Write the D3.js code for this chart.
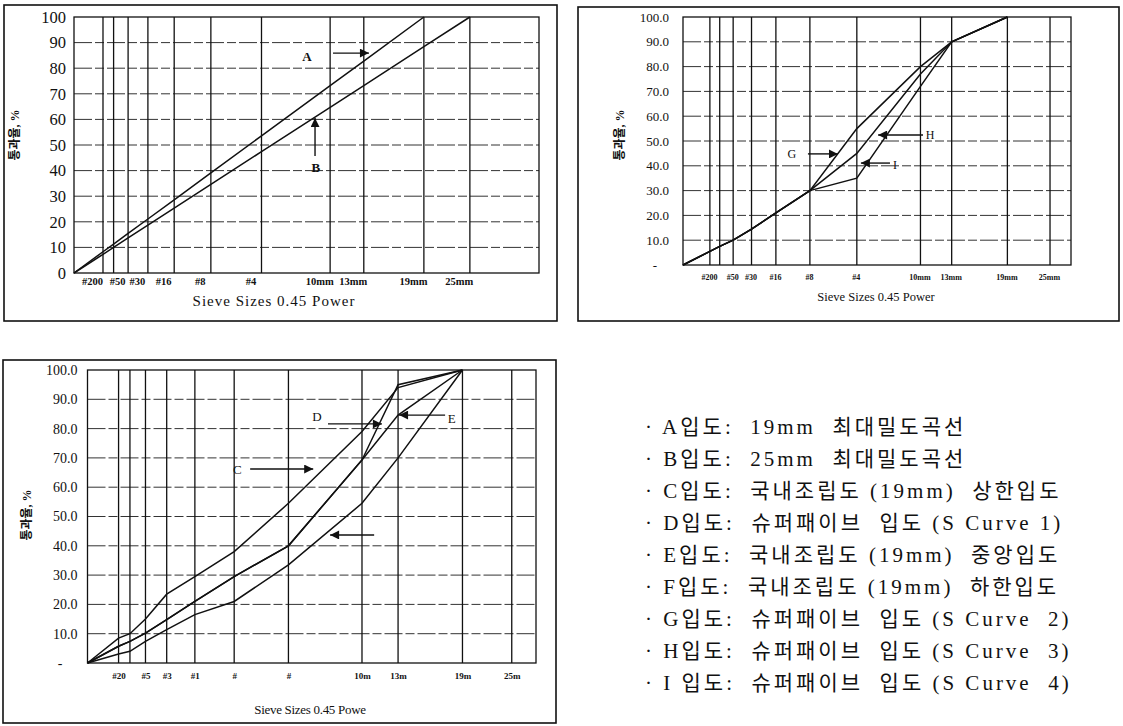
<!DOCTYPE html>
<html>
<head>
<meta charset="utf-8">
<script src="https://cdn.jsdelivr.net/npm/d3@7"></script>
<style>
body { margin: 0; background: #fff; }
svg text { font-family: "Liberation Serif", "Noto Sans CJK KR", serif; fill: #111; }
</style>
</head>
<body>
<svg id="chart" width="1123" height="726"></svg>
<script>
// sieve sizes in mm (0.45 power chart), x labels per panel
var sieveSizes = [0.075, 0.15, 0.3, 0.6, 1.18, 2.36, 4.75, 9.5, 12.5, 19, 25];
var curveSizes = [0].concat(sieveSizes);
var sieveLabels = ["#200", "", "#50", "#30", "#16", "#8", "#4", "10mm", "13mm", "19mm", "25mm"];
var sieveLabelsCut = ["#20", "", "#5", "#3", "#1", "#", "#", "10m", "13m", "19m", "25m"];
var pctTicks = [0, 10, 20, 30, 40, 50, 60, 70, 80, 90, 100];

// passing %, one value per curveSizes entry (null = not plotted)
var gradeA = [0, 8.3, 11.3, 15.5, 21.1, 28.6, 39.1, 53.6, 73.2, 82.8, 100, null];
var gradeB = [0, 7.3, 10.0, 13.7, 18.7, 25.3, 34.6, 47.4, 64.7, 73.2, 88.4, 100];

var gradeG = [0, 5.5, 7.5, 10, 14.5, 21, 30, 55, 80, 90, 100, null];
var gradeH = [0, 5.5, 7.5, 10, 14.5, 21, 30, 45, 77, 90, 100, null];
var gradeI = [0, 5.5, 7.5, 10, 14.5, 21, 30, 35, 72, 90, 100, null];

var gradeC = [0, 8.5, 10, 15, 23.5, 29.5, 38, 54.5, 79, 94, 100, null];
var gradeD = [0, 5.7, 7.4, 10.2, 14.8, 21, 29.5, 40, 69.3, 95, 100, null];
var gradeE = [0, 5.7, 7.4, 10.2, 14.8, 21, 29.5, 40, 69.3, 84.6, 100, null];
var gradeF = [0, 3.1, 4.0, 7.4, 11.4, 16.5, 21, 33.5, 54.5, 70, 100, null];

var legendItems = [
    "· A입도:  19mm  최대밀도곡선",
    "· B입도:  25mm  최대밀도곡선",
    "· C입도:  국내조립도 (19mm)  상한입도",
    "· D입도:  슈퍼패이브  입도 (S Curve 1)",
    "· E입도:  국내조립도 (19mm)  중앙입도",
    "· F입도:  국내조립도 (19mm)  하한입도",
    "· G입도:  슈퍼패이브  입도 (S Curve  2)",
    "· H입도:  슈퍼패이브  입도 (S Curve  3)",
    "· I 입도:  슈퍼패이브  입도 (S Curve  4)"
];

var P = 0.45;
var svg = d3.select("#chart");

svg.append("defs").append("marker")
    .attr("id", "head")
    .attr("markerUnits", "userSpaceOnUse")
    .attr("viewBox", "0 0 10 10")
    .attr("refX", 10).attr("refY", 5)
    .attr("markerWidth", 10).attr("markerHeight", 9)
    .attr("orient", "auto")
    .append("path").attr("d", "M0,0L10,5L0,10Z").attr("fill", "#111");

function drawPanel(c) {
    var g = svg.append("g");

    // 바깥 테두리
    g.append("rect")
        .attr("x", c.box[0]).attr("y", c.box[1])
        .attr("width", c.box[2] - c.box[0]).attr("height", c.box[3] - c.box[1])
        .attr("fill", "none").attr("stroke", "#111").attr("stroke-width", 1.6);

    var x = d3.scalePow().exponent(P)
        .domain([0, Math.pow(c.xMaxU, 1 / P)])
        .range([c.plot.left, c.plot.right]);
    var y = d3.scaleLinear().domain([0, 100]).range([c.plot.bottom, c.plot.top]);

    // 가로 점선
    g.selectAll(".hgrid")
        .data(pctTicks.filter(function (d) { return d > 0 && d < 100; }))
        .enter().append("line")
        .attr("x1", c.plot.left).attr("x2", c.plot.right)
        .attr("y1", function (d) { return y(d); })
        .attr("y2", function (d) { return y(d); })
        .attr("stroke", "#333").attr("stroke-width", 1)
        .attr("stroke-dasharray", "18,3,9,3");

    // 체 크기 세로선
    g.selectAll(".vgrid")
        .data(sieveSizes)
        .enter().append("line")
        .attr("x1", function (d) { return x(d); })
        .attr("x2", function (d) { return x(d); })
        .attr("y1", c.plot.top).attr("y2", c.plot.bottom)
        .attr("stroke", "#111").attr("stroke-width", 1.3);

    g.append("rect")
        .attr("x", c.plot.left).attr("y", c.plot.top)
        .attr("width", c.plot.right - c.plot.left)
        .attr("height", c.plot.bottom - c.plot.top)
        .attr("fill", "none").attr("stroke", "#111").attr("stroke-width", 1.3);

    // y axis labels
    var ya = g.append("g")
        .attr("transform", "translate(" + c.plot.left + ",0)")
        .call(d3.axisLeft(y).tickValues(pctTicks).tickFormat(c.yFormat)
            .tickSize(0).tickPadding(c.yPad));
    ya.select(".domain").remove();
    ya.selectAll("text")
        .attr("font-family", "Liberation Serif").attr("font-size", c.yFont)
        .attr("fill", "#111")
        .attr("dx", function (d) { return d === 0 ? c.zeroDx : 0; });

    // x axis labels
    var xa = g.append("g")
        .attr("transform", "translate(0," + c.plot.bottom + ")")
        .call(d3.axisBottom(x).tickValues(sieveSizes)
            .tickFormat(function (d, i) { return c.xLabels[i]; })
            .tickSize(0));
    xa.select(".domain").remove();
    xa.selectAll("text")
        .attr("y", c.xLabelOffset).attr("dy", "0.35em").attr("dx", c.xLabelDx)
        .attr("font-family", "'Liberation Sans Narrow', 'DejaVu Sans Condensed', sans-serif")
        .attr("font-weight", "bold").attr("font-size", c.xLabelFont)
        .attr("fill", "#111");

    g.append("text")
        .attr("x", c.titleX).attr("y", c.titleY).attr("dy", "0.35em")
        .attr("text-anchor", "middle")
        .attr("font-size", c.titleFont)
        .attr("letter-spacing", c.titleSpacing)
        .text(c.title);

    g.append("text")
        .attr("transform", "translate(" + c.yTitleX + "," + c.yTitleY + ")rotate(-90)")
        .attr("text-anchor", "middle").attr("dy", "0.35em")
        .attr("font-family", "Noto Sans CJK KR").attr("font-weight", "bold")
        .attr("font-size", 12)
        .text("통과율, %");

    var line = d3.line()
        .defined(function (d) { return d != null; })
        .x(function (d, i) { return x(curveSizes[i]); })
        .y(function (d) { return y(d); });

    g.selectAll(".curve")
        .data(c.series)
        .enter().append("path")
        .attr("d", line)
        .attr("fill", "none").attr("stroke", "#111").attr("stroke-width", 1.5);

    // 화살표 + 글자
    c.notes.forEach(function (n) {
        if (n.arrow) {
            g.append("line")
                .attr("x1", x(n.arrow[0])).attr("y1", y(n.arrow[1]))
                .attr("x2", x(n.arrow[2])).attr("y2", y(n.arrow[3]))
                .attr("stroke", "#111").attr("stroke-width", 1.4)
                .attr("marker-end", "url(#head)");
        }
        if (n.text) {
            g.append("text")
                .attr("x", x(n.at[0])).attr("y", y(n.at[1]))
                .attr("dy", "0.35em").attr("text-anchor", "middle")
                .attr("font-family", c.noteFamily)
                .attr("font-weight", c.noteWeight)
                .attr("font-size", c.noteFont)
                .text(n.text);
        }
    });
}

var oneDec = function (d) { return d === 0 ? "-" : d3.format(".1f")(d); };

drawPanel({
    box: [4, 5, 557, 321],
    plot: {left: 74, right: 539, top: 17, bottom: 273},
    xMaxU: 5,
    yFormat: d3.format("d"), yFont: 16.5, yPad: 8, zeroDx: 0,
    xLabels: sieveLabels, xLabelFont: 10.5, xLabelOffset: 8, xLabelDx: -11,
    title: "Sieve Sizes 0.45 Power", titleX: 274, titleY: 301, titleFont: 15, titleSpacing: 1,
    yTitleX: 15, yTitleY: 135,
    series: [gradeA, gradeB],
    noteFamily: "Liberation Sans", noteWeight: "bold", noteFont: 13,
    notes: [
        {text: "A", at: [7.7, 84.4], arrow: [9.74, 85.9, 13.0, 85.9]},
        {text: "B", at: [8.37, 41.4], arrow: [8.3, 45.7, 8.3, 60.5]}
    ]
});

drawPanel({
    box: [578, 7, 1119, 321],
    plot: {left: 683, right: 1071, top: 17, bottom: 265},
    xMaxU: 4.5,
    yFormat: oneDec, yFont: 13, yPad: 14, zeroDx: -12,
    xLabels: sieveLabels, xLabelFont: 8, xLabelOffset: 12, xLabelDx: -1,
    title: "Sieve Sizes 0.45 Power", titleX: 876, titleY: 297, titleFont: 12.5, titleSpacing: 0,
    yTitleX: 620, yTitleY: 135,
    series: [gradeG, gradeH, gradeI],
    noteFamily: "Liberation Serif", noteWeight: "normal", noteFont: 12,
    notes: [
        {text: "G", at: [1.68, 44.8], arrow: [2.28, 44.8, 3.68, 44.8]},
        {text: "H", at: [10.37, 52.4], arrow: [9.73, 52.4, 6.14, 52.4]},
        {text: "I", at: [7.38, 40.3], arrow: [7.0, 41.1, 5.0, 41.1]}
    ]
});

drawPanel({
    box: [3, 360, 556, 723],
    plot: {left: 87.5, right: 536, top: 370, bottom: 663},
    xMaxU: 4.5,
    yFormat: oneDec, yFont: 14, yPad: 10, zeroDx: -15,
    xLabels: sieveLabelsCut, xLabelFont: 9, xLabelOffset: 13, xLabelDx: 0,
    title: "Sieve Sizes 0.45 Powe", titleX: 310, titleY: 709, titleFont: 13, titleSpacing: -0.3,
    yTitleX: 27, yTitleY: 515,
    series: [gradeC, gradeD, gradeE, gradeF],
    noteFamily: "Liberation Serif", noteWeight: "normal", noteFont: 13,
    notes: [
        {text: "C", at: [2.47, 66.2], arrow: [2.97, 66.2, 6.15, 66.2]},
        {text: "D", at: [6.38, 84], arrow: [7.08, 81.6, 11.1, 81.6]},
        {text: "E", at: [17.8, 83.6], arrow: [17.1, 84.6, 12.59, 84.6]},
        {text: null, arrow: [10.46, 43.7, 7.22, 43.7]}
    ]
});

// 범례
svg.append("g").selectAll("text")
    .data(legendItems)
    .enter().append("text")
    .attr("x", 645)
    .attr("y", function (d, i) { return 427 + i * 31.9; })
    .attr("dy", "0.35em")
    .attr("font-size", 21)
    .attr("letter-spacing", 3)
    .style("white-space", "pre")
    .text(function (d) { return d; });
</script>
</body>
</html>
